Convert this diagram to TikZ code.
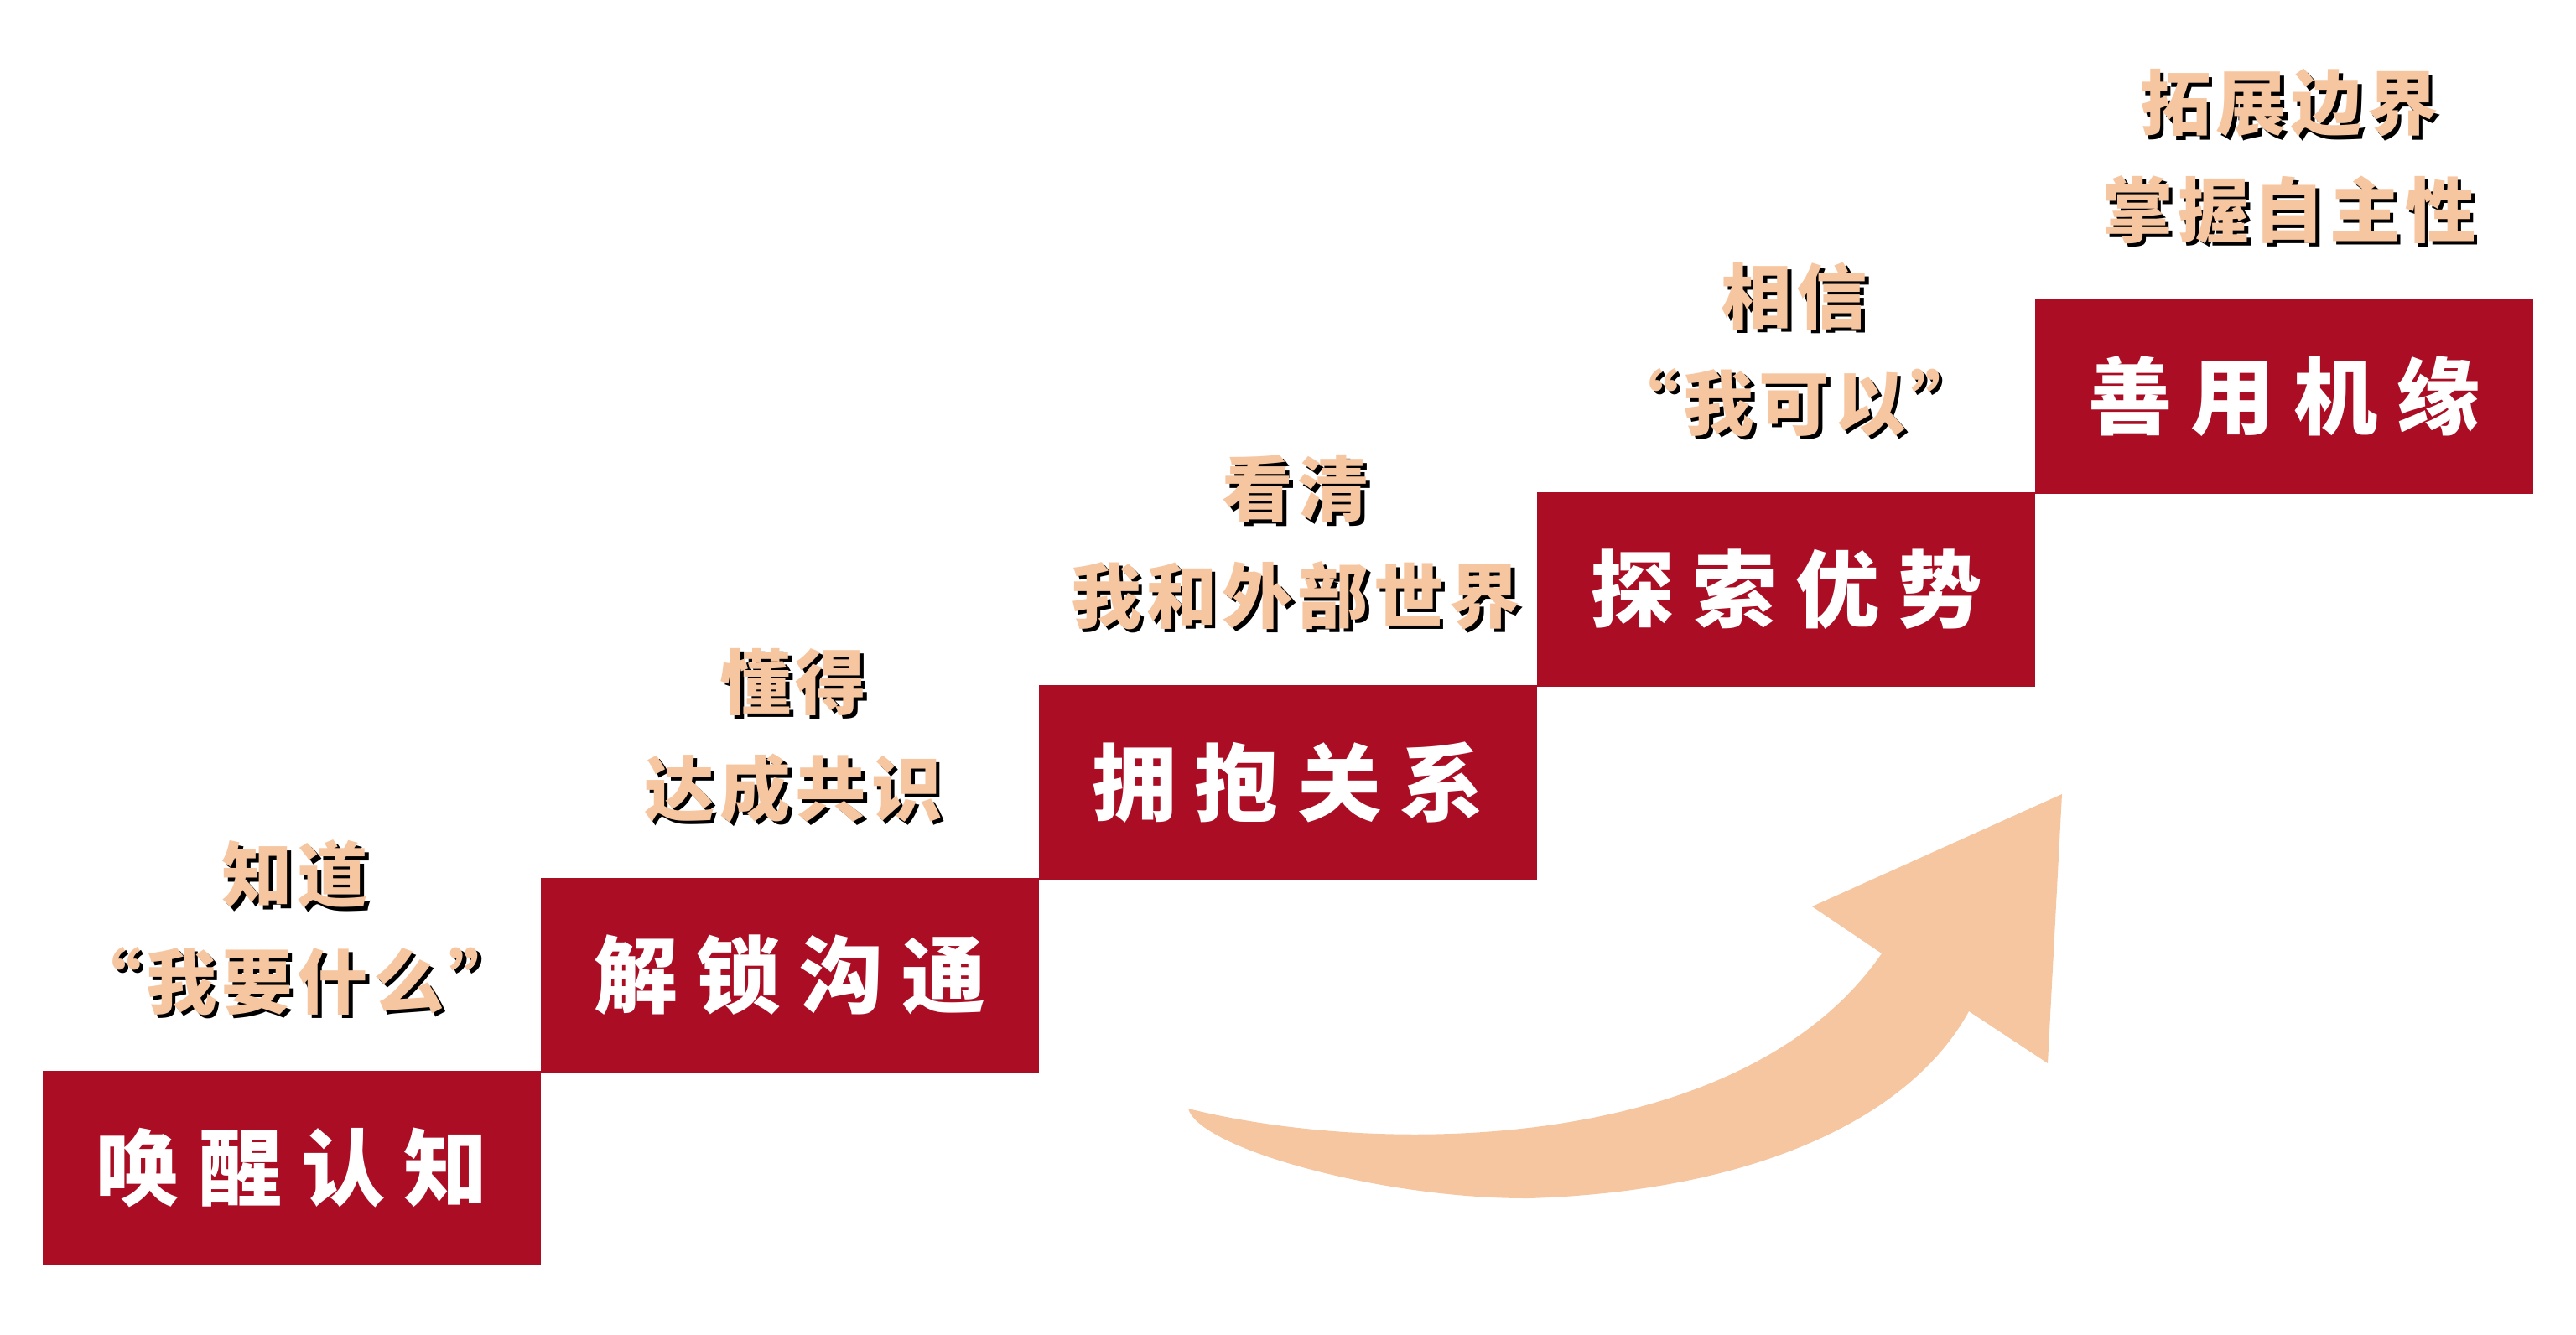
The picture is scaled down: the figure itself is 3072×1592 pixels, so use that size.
\documentclass[tikz,border=0pt]{standalone}
\usepackage{fontspec}
\usetikzlibrary{positioning}
\newfontfamily\cjk{Noto Sans CJK SC Black}
\newfontfamily\capfont{Noto Sans CJK SC Black}[LetterSpace=7]
\definecolor{stepred}{HTML}{AB0E24}
\definecolor{peach}{HTML}{F6C6A1}
\newcommand{\gap}{\hspace{.22em}}

\begin{document}
\begin{tikzpicture}[x=0.01cm, y=-0.01cm]
	\tikzset{stepbox/.style={rectangle, fill=stepred, text=white, minimum width=5.94cm, minimum height=2.32cm, inner sep=0pt, font=\cjk\fontsize{28.5}{30}\selectfont}};
	\tikzset{caption/.style={text=peach, inner sep=0pt, font=\capfont\fontsize{24}{26}\selectfont}};
	\tikzset{shade/.style={caption, text=black, xshift=1.3pt, yshift=-1.3pt}};
	\useasboundingbox (0,0) rectangle (3072,1592);
	% Place arrow
	\fill [peach] (1417,1322) .. controls (1650,1380) and (2080,1375) .. (2244,1137)
		-- (2161,1081) -- (2459,947) -- (2442,1268) -- (2348,1206)
		.. controls (2280,1330) and (2100,1420) .. (1824,1429)
		.. controls (1650,1430) and (1430,1370) .. (1417,1322) -- cycle;
	% Place steps
	\node [stepbox] (wake) at (348,1393) {唤\gap 醒\gap 认\gap 知};
	\node [stepbox] (unlock) at (942,1163) {解\gap 锁\gap 沟\gap 通};
	\node [stepbox] (embrace) at (1536,933) {拥\gap 抱\gap 关\gap 系};
	\node [stepbox] (explore) at (2130,703) {探\gap 索\gap 优\gap 势};
	\node [stepbox] (use) at (2724,473) {善\gap 用\gap 机\gap 缘};
	% Place captions
	\node [shade] (s1a) at (352,1043) {知道};
	\node [caption] (c1a) at (352,1043) {知道};
	\node [shade] (s1b) at (352,1170) {“我要什么”};
	\node [caption] (c1b) at (352,1170) {“我要什么”};
	\node [shade] (s2a) at (946,813) {懂得};
	\node [caption] (c2a) at (946,813) {懂得};
	\node [shade] (s2b) at (946,940) {达成共识};
	\node [caption] (c2b) at (946,940) {达成共识};
	\node [shade] (s3a) at (1545,583) {看清};
	\node [caption] (c3a) at (1545,583) {看清};
	\node [shade] (s3b) at (1545,710) {我和外部世界};
	\node [caption] (c3b) at (1545,710) {我和外部世界};
	\node [shade] (s4a) at (2140,353) {相信};
	\node [caption] (c4a) at (2140,353) {相信};
	\node [shade] (s4b) at (2140,480) {“我可以”};
	\node [caption] (c4b) at (2140,480) {“我可以”};
	\node [shade] (s5a) at (2730,123) {拓展边界};
	\node [caption] (c5a) at (2730,123) {拓展边界};
	\node [shade] (s5b) at (2730,250) {掌握自主性};
	\node [caption] (c5b) at (2730,250) {掌握自主性};
\end{tikzpicture}
\end{document}
